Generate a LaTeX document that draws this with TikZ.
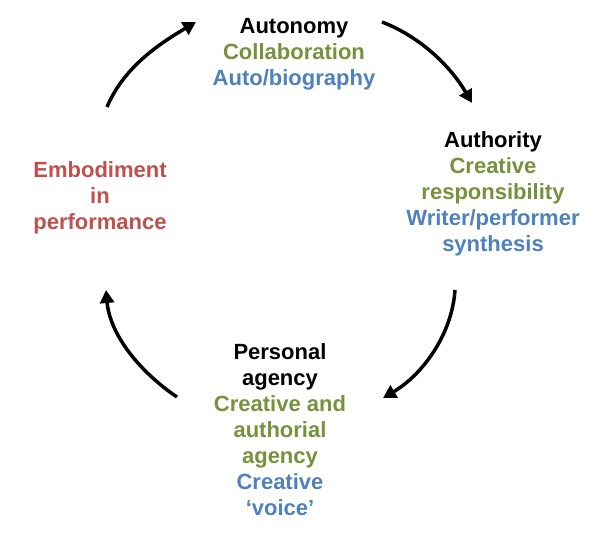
\documentclass[tikz,border=0pt]{standalone}
\usepackage{fontspec}
\setmainfont{Liberation Sans}
\usetikzlibrary{arrows.meta}
\definecolor{cgreen}{HTML}{76923C}
\definecolor{cblue}{HTML}{4F81BD}
\definecolor{cred}{HTML}{C0504D}
\begin{document}
\begin{tikzpicture}[x=1pt,y=-1pt,
  lbl/.style={align=center, inner sep=0pt, anchor=base, font=\bfseries\fontsize{22}{26}\selectfont},
  cyc/.style={line width=3.5pt, -{Triangle[length=13pt,width=14pt]}}]
\useasboundingbox (0,0) rectangle (606,533);
\fill[white] (0,0) rectangle (606,533);
\node[lbl] (auto) at (294,85) {Autonomy\\\textcolor{cgreen}{Collaboration}\\\textcolor{cblue}{Auto/biography}};
\node[lbl] (auth) at (493,251) {Authority\\\textcolor{cgreen}{Creative}\\\textcolor{cgreen}{responsibility}\\\textcolor{cblue}{Writer/performer}\\\textcolor{cblue}{synthesis}};
\node[lbl] (pers) at (280,515) {Personal\\agency\\\textcolor{cgreen}{Creative and}\\\textcolor{cgreen}{authorial}\\\textcolor{cgreen}{agency}\\\textcolor{cblue}{Creative}\\\textcolor{cblue}{‘voice’}};
\node[lbl, text=cred] (emb) at (100,229) {Embodiment\\in\\performance};
\coordinate (s1) at (107,107); \coordinate (e1) at (196,22);
\coordinate (s2) at (382,22);  \coordinate (e2) at (472,103);
\coordinate (s3) at (455,290); \coordinate (e3) at (383,398);
\coordinate (s4) at (177,397); \coordinate (e4) at (106,290);
\draw[cyc] (s1) .. controls (124,67) and (159,44) .. (e1);
\draw[cyc] (s2) .. controls (421,37) and (451,67) .. (e2);
\draw[cyc] (s3) .. controls (452,335) and (422,375) .. (e3);
\draw[cyc] (s4) .. controls (140,372) and (110,335) .. (e4);
\end{tikzpicture}
\end{document}
